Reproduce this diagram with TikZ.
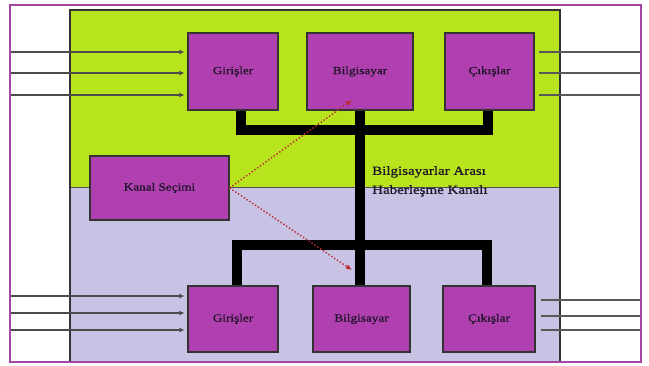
\documentclass[tikz,border=0pt]{standalone}
\usepackage{fontspec}
\setmainfont{Liberation Serif}
\newfontfamily\widefont[FakeStretch=1.2,FakeBold=0.6]{Liberation Serif}
\usetikzlibrary{arrows.meta}
\definecolor{frameM}{RGB}{165,70,165}
\definecolor{boxM}{RGB}{176,64,176}
\definecolor{greenBg}{RGB}{184,228,30}
\definecolor{lavBg}{RGB}{200,194,228}
\definecolor{dotRed}{RGB}{190,40,50}
\definecolor{txt}{RGB}{30,20,40}
\begin{document}
\begin{tikzpicture}[x=1pt,y=-1pt,
  unit/.style={draw=black!80,line width=1.2pt,fill=boxM,inner sep=0pt,
    font=\widefont\fontsize{11}{13}\selectfont,text=txt},
  bus/.style={line width=10pt,black},
  inline/.style={draw=black!70,line width=1.4pt,-{Latex[length=5pt,width=5pt]}},
  outline/.style={draw=black!65,line width=1.4pt},
  ctrl/.style={draw=dotRed,line width=1.4pt,dotted,-{Latex[length=6pt,width=5pt]}}]
\useasboundingbox (0,0) rectangle (649,365);
\fill[white] (0,0) rectangle (649,365);
% backgrounds
\fill[greenBg] (70,10) rectangle (560,187);
\fill[lavBg] (70,187) rectangle (560,362);
\draw[black!70,line width=0.8pt] (70,187) -- (560,187);
\draw[black!80,line width=1.2pt] (70,362) -- (70,10) -- (560,10) -- (560,362);
% units
\node[unit,minimum width=90pt,minimum height=77pt] (gt) at (233,71.5) {Girişler};
\node[unit,minimum width=106pt,minimum height=77pt] (bt) at (360,71.5) {Bilgisayar};
\node[unit,minimum width=89pt,minimum height=77pt] (ct) at (489.5,71.5) {Çıkışlar};
\node[unit,minimum width=90pt,minimum height=66pt] (gb) at (233,319) {Girişler};
\node[unit,minimum width=97pt,minimum height=66pt] (bb) at (361.5,319) {Bilgisayar};
\node[unit,minimum width=92pt,minimum height=66pt] (cb) at (489,319) {Çıkışlar};
\node[unit,minimum width=139pt,minimum height=64pt] (ks) at (159.5,188) {Kanal Seçimi};
% buses
\coordinate (t1) at (241,130);
\coordinate (t3) at (488,130);
\coordinate (b1) at (237,245);
\coordinate (b3) at (487,245);
\draw[bus] (gt.south -| t1) -- (t1) -- (t3) -- (ct.south -| t3);
\draw[bus] (gb.north -| b1) -- (b1) -- (b3) -- (cb.north -| b3);
\draw[bus] (bt.south) -- (bb.north -| bt.south);
\node[anchor=north west,align=left,inner sep=0pt,font=\widefont\fontsize{12.5}{19}\selectfont,text=txt] (lbl) at (372,166) {Bilgisayarlar Arası\\Haberleşme Kanalı};
% control arrows
\coordinate (c1) at (352,100);
\coordinate (c2) at (352,270);
\draw[ctrl] (ks.east) -- (c1);
\draw[ctrl] (ks.east) -- (c2);
% inputs
\foreach \y [count=\i] in {52,73,95} {
  \coordinate (it\i) at (10,\y);
  \draw[inline] (it\i) -- ([xshift=-3pt]it\i -| gt.west);
  \coordinate (ot\i) at (641,\y);
  \draw[outline] ([xshift=4pt]ot\i -| ct.east) -- (ot\i);
}
\foreach \y [count=\i] in {296,313,330} {
  \coordinate (ib\i) at (10,\y);
  \draw[inline] (ib\i) -- ([xshift=-3pt]ib\i -| gb.west);
}
\foreach \y [count=\i] in {300,316,330} {
  \coordinate (ob\i) at (641,\y);
  \draw[outline] ([xshift=5pt]ob\i -| cb.east) -- (ob\i);
}
% frame
\draw[frameM,line width=2pt] (10,5) rectangle (641,362);
\end{tikzpicture}
\end{document}
